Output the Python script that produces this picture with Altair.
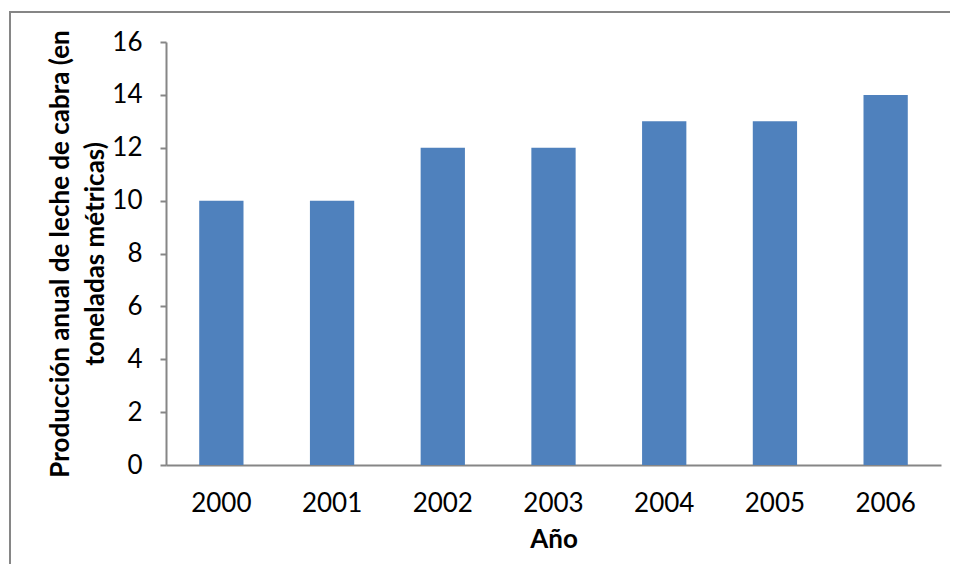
import altair as alt
import pandas as pd

years = ["2000", "2001", "2002", "2003", "2004", "2005", "2006"]
values = [10, 10, 12, 12, 13, 13, 14]

df = pd.DataFrame({"Año": years, "Producción": values})

FONT = "Lato"
AXIS_COLOR = "#868686"

bars = alt.Chart(df).mark_bar(color="#4F81BD").encode(
    x=alt.X("Año:N", sort=years,
            scale=alt.Scale(paddingInner=0.6, paddingOuter=0.3),
            axis=alt.Axis(title="Año", labelAngle=0, tickSize=0, labelPadding=25,
                          titlePadding=10, domainColor=AXIS_COLOR, domainWidth=2,
                          labelFont=FONT, labelFontSize=26, labelColor="black",
                          titleFont=FONT, titleFontSize=26, titleFontWeight="bold",
                          titleColor="black")),
    y=alt.Y("Producción:Q",
            scale=alt.Scale(domain=[0, 16]),
            axis=alt.Axis(title=["Producción anual de leche de cabra (en", "toneladas métricas)"],
                          values=[0, 2, 4, 6, 8, 10, 12, 14, 16], grid=False,
                          tickSize=6, tickColor=AXIS_COLOR, tickWidth=2,
                          domainColor=AXIS_COLOR, domainWidth=2, labelPadding=18,
                          labelFont=FONT, labelFontSize=26, labelColor="black",
                          titleFont=FONT, titleFontSize=26, titleFontWeight="bold",
                          titleColor="black", titlePadding=3, titleLineHeight=35)),
)

top_edge = alt.Chart(df).mark_rule(color=AXIS_COLOR, strokeWidth=2, clip=False).encode(
    x=alt.value(-156), x2=alt.value(784), y=alt.value(-30)
)
left_edge = alt.Chart(df).mark_rule(color=AXIS_COLOR, strokeWidth=2, clip=False).encode(
    x=alt.value(-156), y=alt.value(-31), y2=alt.value(560)
)

chart = alt.layer(bars, top_edge, left_edge).properties(
    width=775, height=423,
    autosize=alt.AutoSizeParams(type="none"),
    padding={"left": 158, "top": 34, "right": 10, "bottom": 99},
).configure_view(stroke=None)

chart.save("out.html", embed_options={"renderer": "svg", "actions": False})
